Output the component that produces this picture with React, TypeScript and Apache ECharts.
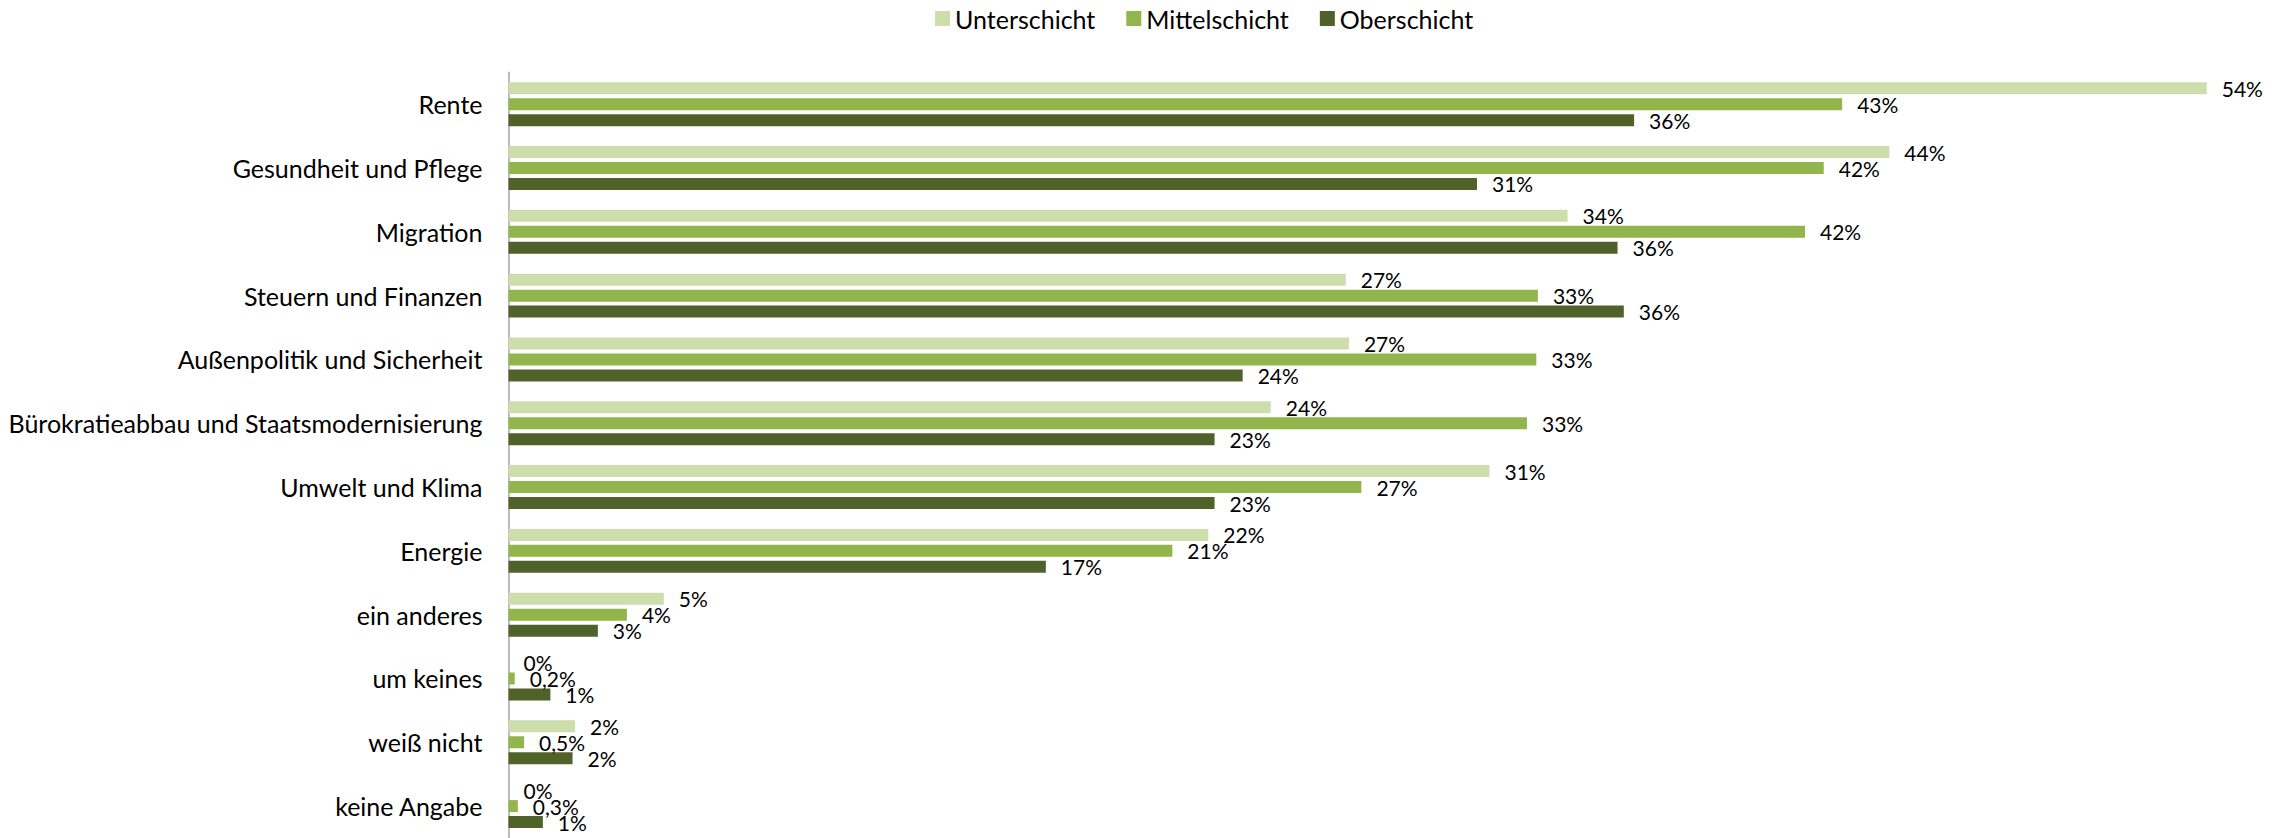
import { useEffect, useRef } from "react";
import * as echarts from "echarts";

const categories = [
  "Rente",
  "Gesundheit und Pflege",
  "Migration",
  "Steuern und Finanzen",
  "Außenpolitik und Sicherheit",
  "Bürokratieabbau und Staatsmodernisierung",
  "Umwelt und Klima",
  "Energie",
  "ein anderes",
  "um keines",
  "weiß nicht",
  "keine Angabe",
];

const seriesNames = ["Unterschicht", "Mittelschicht", "Oberschicht"];

const unterschicht = [54.36, 44.2, 33.9, 26.8, 26.9, 24.4, 31.4, 22.4, 4.97, 0, 2.13, 0];
const mittelschicht = [42.69, 42.1, 41.5, 32.95, 32.9, 32.6, 27.3, 21.25, 3.79, 0.2, 0.5, 0.3];
const oberschicht = [36.03, 31.0, 35.5, 35.7, 23.5, 22.6, 22.6, 17.2, 2.86, 1.34, 2.05, 1.1];

const colors = ["#CDDDAC", "#93B64C", "#506229"];
const FONT = "Lato, 'Noto Sans', sans-serif";

function fmt(v: number): string {
  if (v === 0) return "0%";
  if (v < 1) return v.toFixed(1).replace(".", ",") + "%";
  return Math.round(v) + "%";
}

export default function App() {
  const ref = useRef<HTMLDivElement>(null);

  useEffect(() => {
    if (!ref.current) return;
    const chart = echarts.init(ref.current, undefined, { renderer: "svg" });
    const data = [unterschicht, mittelschicht, oberschicht];
    chart.setOption({
      animation: false,
      backgroundColor: "#ffffff",
      textStyle: { fontFamily: FONT },
      legend: {
        data: seriesNames,
        left: 930,
        top: 1,
        itemWidth: 15,
        itemHeight: 15,
        itemGap: 31,
        icon: "rect",
        textStyle: { fontSize: 25, color: "#000", fontFamily: FONT },
      },
      grid: { left: 508.5, right: 22, top: 72.3, bottom: 0, containLabel: false },
      xAxis: {
        type: "value",
        min: 0,
        max: 56,
        show: false,
        splitLine: { show: false },
      },
      yAxis: {
        type: "category",
        data: categories,
        inverse: true,
        axisTick: { show: false },
        axisLine: { show: true, lineStyle: { color: "#A6A6A6", width: 1.5 } },
        axisLabel: { fontSize: 25, color: "#000", margin: 26, fontFamily: FONT },
      },
      series: seriesNames.map((name, i) => ({
        name,
        type: "bar",
        data: data[i],
        barWidth: 12,
        barGap: "33%",
        itemStyle: { color: colors[i] },
        label: {
          show: true,
          position: "right",
          distance: 15,
          fontSize: 21,
          color: "#000",
          fontFamily: FONT,
          formatter: (p: any) => fmt(p.value as number),
        },
      })),
    });
    return () => chart.dispose();
  }, []);

  return (
    <div
      ref={ref}
      style={{ position: "fixed", left: 0, top: 0, width: 2280, height: 838 }}
    />
  );
}
